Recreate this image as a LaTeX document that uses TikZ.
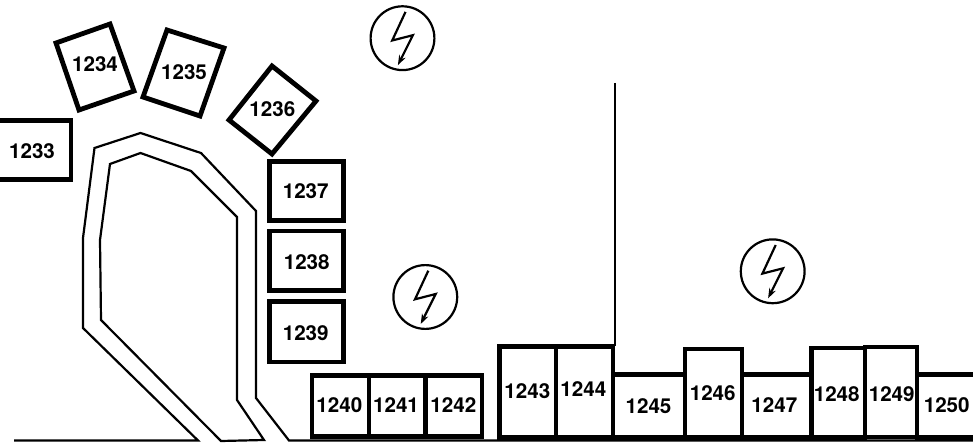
\documentclass[tikz,border=0pt]{standalone}
\usepackage{fontspec}
\setmainfont{TeX Gyre Heros}
\usetikzlibrary{arrows.meta}
\tikzset{
  room/.style={draw=black,line width=4.8pt,miter limit=10},
  roomnum/.style={font=\fontsize{20.6}{24}\selectfont\bfseries,inner sep=0pt,text=black},
  wall/.style={draw=black,line width=2.2pt,line join=miter},
  bolt/.style={draw=black,line width=2.2pt,-{Stealth[length=10pt,width=7pt]}},
  ring/.style={draw=black,line width=2.2pt,circle,minimum size=63.8pt,inner sep=0pt}
}
\newcommand{\zap}[2]{%
  \node[ring] (#1) at (#2) {};
  \coordinate (#1a) at ([shift={(3,-26.3)}]#1.center);
  \coordinate (#1b) at ([shift={(-10.3,2.3)}]#1.center);
  \coordinate (#1c) at ([shift={(10.4,-3)}]#1.center);
  \coordinate (#1d) at ([shift={(-4.6,27)}]#1.center);
  \draw[bolt] (#1a) -- (#1b) -- (#1c) -- (#1d);
}
\begin{document}
\begin{tikzpicture}[x=1pt,y=-1pt]
\useasboundingbox (0,0) rectangle (973,443);
\fill[white] (0,0) rectangle (973,443);
% walls
\draw[wall] (14,440.5) -- (198,440.5) -- (83,328) -- (83,238) -- (94.5,148) -- (140.5,133) -- (201,153) -- (256,211) -- (256,398) -- (289,440.5) -- (973,440.5);
\draw[wall] (221,441) -- (101,320) -- (100,240) -- (110,164) -- (140.5,153) -- (191,171) -- (237,217) -- (237,400) -- (264,440) -- cycle;
\draw[wall] (615,83) -- (615,346);
% rooms
\draw[room] (-6,120.5) -- (71,120.5) -- (71,179.5) -- (-6,179.5) -- cycle;
\draw[room] (56,43) -- (110,24) -- (134,91) -- (79,110) -- cycle;
\draw[room] (167,30) -- (224,48) -- (200,116) -- (143,97) -- cycle;
\draw[room] (272,66) -- (316,101) -- (272,154) -- (229,120) -- cycle;
\draw[room] (269.5,161.5) rectangle (343.5,220.5);
\draw[room] (269.5,231) rectangle (343.5,290.5);
\draw[room] (269.5,301.5) rectangle (343.5,362);
\draw[room] (312,375.5) rectangle (369,436.5);
\draw[room] (369,375.5) rectangle (425.7,436.5);
\draw[room] (425.7,375.5) rectangle (482,436.5);
\draw[room] (499.5,346.5) rectangle (556,437.5);
\draw[room] (556,346.5) rectangle (613,437.5);
\draw[room] (613,374.3) rectangle (685,437.5);
\draw[room] (685,349) rectangle (742,437.5);
\draw[room] (742,374.3) rectangle (811.5,437.5);
\draw[room] (811.5,348) rectangle (865,437.5);
\draw[room] (865,347) rectangle (917,437);
\draw[room] (917,374.3) rectangle (985,437.5);
% numbers
\node[roomnum] (n1233) at (32,151) {1233};
\node[roomnum] (n1234) at (95,64.5) {1234};
\node[roomnum] (n1235) at (184,72) {1235};
\node[roomnum] (n1236) at (272.3,109) {1236};
\node[roomnum] (n1237) at (305.7,191) {1237};
\node[roomnum] (n1238) at (306.7,262.3) {1238};
\node[roomnum] (n1239) at (305.7,332.7) {1239};
\node[roomnum] (n1240) at (339.3,405) {1240};
\node[roomnum] (n1241) at (396,405) {1241};
\node[roomnum] (n1242) at (453.3,405) {1242};
\node[roomnum] (n1243) at (527.3,391) {1243};
\node[roomnum] (n1244) at (583.3,389) {1244};
\node[roomnum] (n1245) at (648.5,405.7) {1245};
\node[roomnum] (n1246) at (712.7,393.3) {1246};
\node[roomnum] (n1247) at (774.3,405) {1247};
\node[roomnum] (n1248) at (836.7,394) {1248};
\node[roomnum] (n1249) at (891.7,394) {1249};
\node[roomnum] (n1250) at (946.7,405) {1250};
% bolts
\zap{za}{402.5,38.2}
\zap{zb}{425.3,297}
\zap{zc}{772.7,271.3}
\end{tikzpicture}
\end{document}
